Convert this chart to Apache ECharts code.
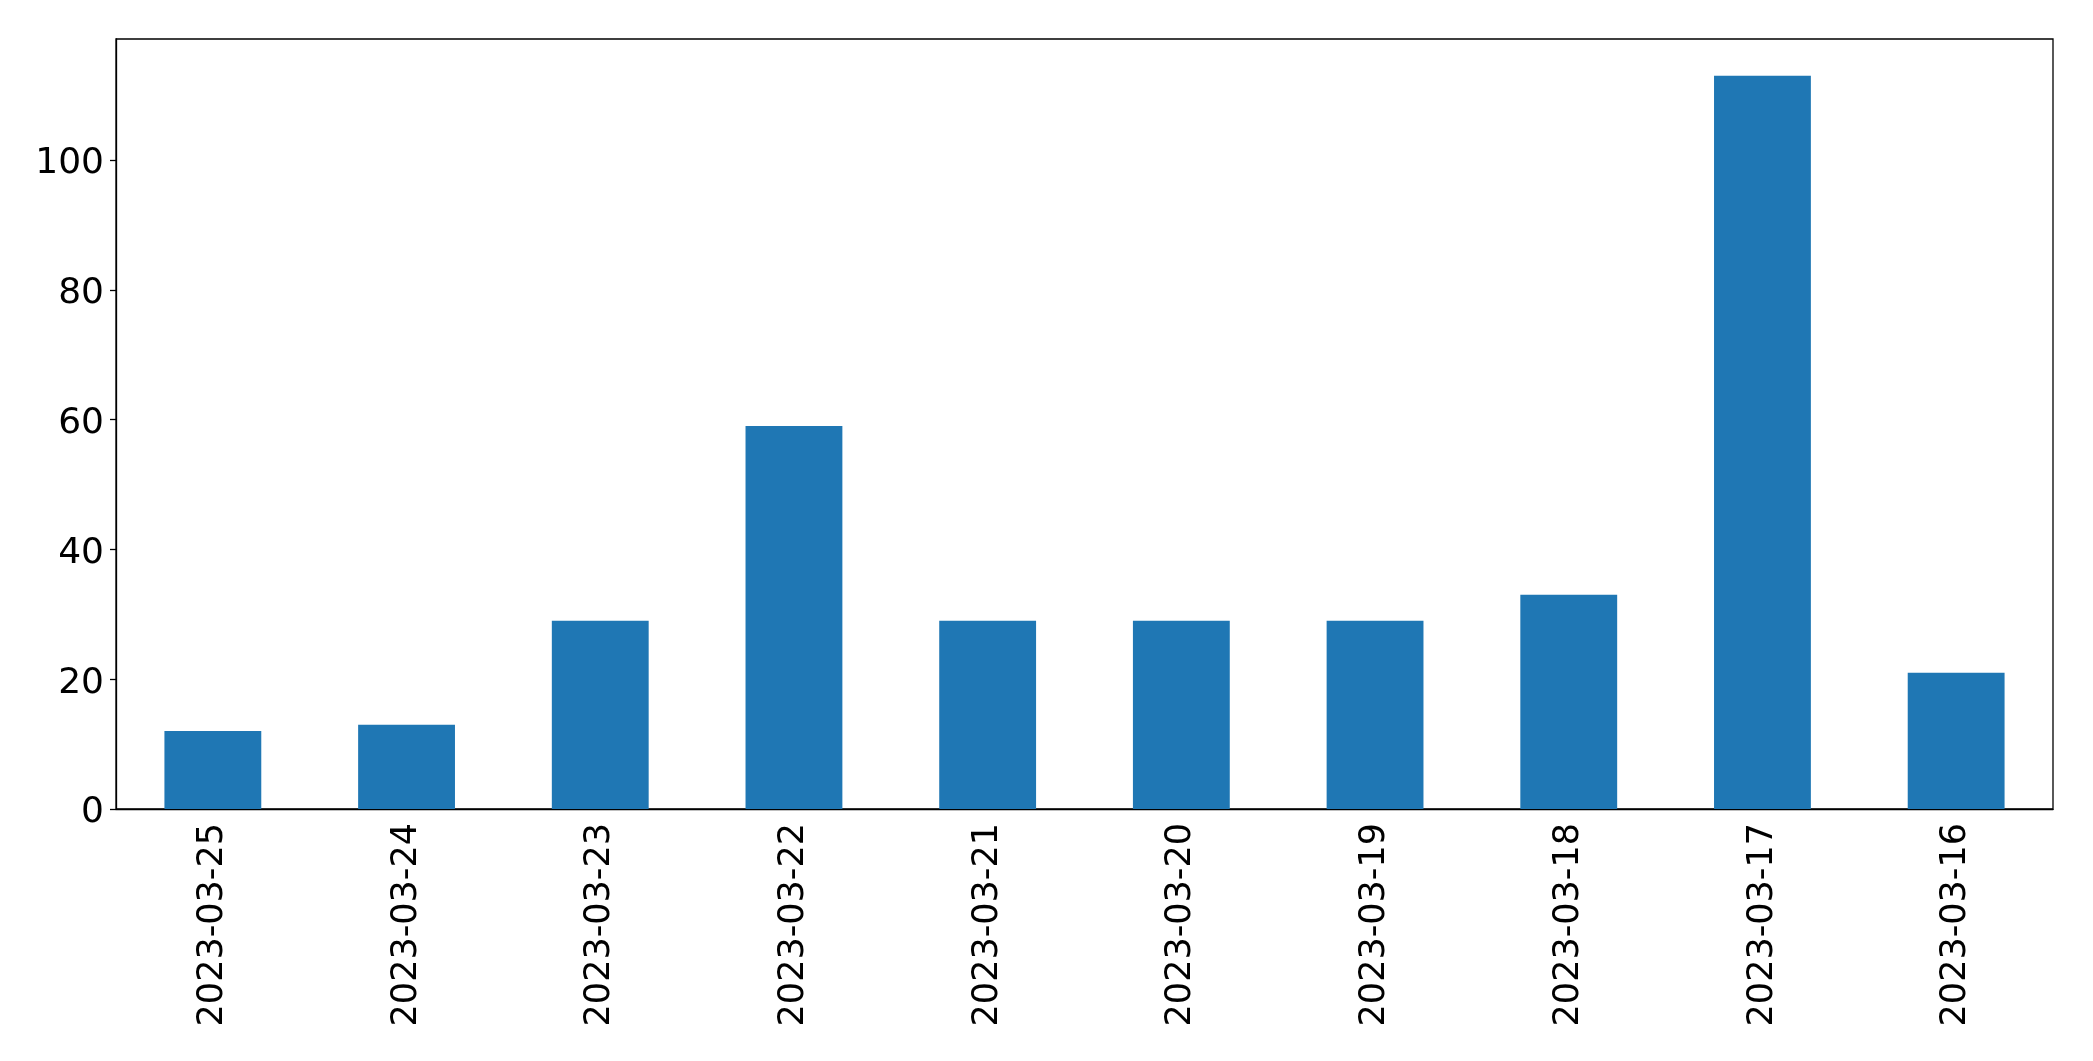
<!DOCTYPE html>
<html>
<head>
<meta charset="utf-8">
<script src="https://cdn.jsdelivr.net/npm/echarts@6/dist/echarts.min.js"></script>
<style>html,body{margin:0;padding:0;background:#fff}#c{width:2093px;height:1061px}</style>
</head>
<body>
<div id="c"></div>
<script>
const categories = ['2023-03-25','2023-03-24','2023-03-23','2023-03-22','2023-03-21','2023-03-20','2023-03-19','2023-03-18','2023-03-17','2023-03-16'];
const values = [12, 13, 29, 59, 29, 29, 29, 33, 113, 21];
const yTicks = [0, 20, 40, 60, 80, 100];

const chart = echarts.init(document.getElementById('c'), null, {renderer: 'canvas'});
const yMax = Math.max(...values) * 1.05;
chart.setOption({
  animation: false,
  grid: {left: 116, right: 40, top: 39, bottom: 252, show: true, borderColor: '#000', borderWidth: 1.3, containLabel: false},
  xAxis: {
    type: 'category', data: categories,
    axisLine: {lineStyle: {color: '#000', width: 1.3}},
    axisTick: {alignWithLabel: true, length: 6, lineStyle: {color: '#000', width: 1.3}},
    axisLabel: {rotate: 90, margin: 14, fontSize: 35, fontFamily: 'DejaVu Sans', color: '#000', interval: 0}
  },
  yAxis: {
    type: 'value', min: 0, max: yMax,
    splitLine: {show: false},
    axisLine: {show: true, lineStyle: {color: '#000', width: 1.3}},
    axisTick: {show: true, length: 6, lineStyle: {color: '#000', width: 1.3}, customValues: yTicks},
    axisLabel: {
      fontSize: 36, fontFamily: 'DejaVu Sans', color: '#000', margin: 12, customValues: yTicks,
      formatter: '{a|{value}}',
      rich: {a: {fontSize: 36, fontFamily: 'DejaVu Sans', color: '#000', padding: [8, 0, 0, 0]}}
    }
  },
  series: [{
    type: 'bar', data: values, barWidth: '50%',
    itemStyle: {color: '#1f77b4'}
  }]
});
</script>
</body>
</html>
